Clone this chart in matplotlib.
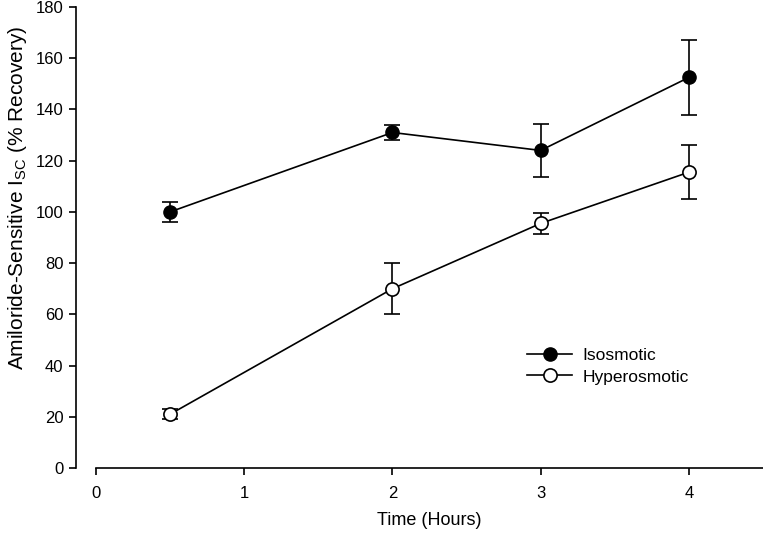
import matplotlib
matplotlib.use('Agg')
import matplotlib.pyplot as plt

plt.rcParams['font.family'] = ['Liberation Sans', 'DejaVu Sans']
plt.rcParams['mathtext.fontset'] = 'custom'
plt.rcParams['mathtext.rm'] = 'Liberation Sans'

hours = [0.5, 2, 3, 4]
iso_mean = [100, 131, 124, 152.5]
iso_err = [4, 3, 10.2, 14.5]
hyper_mean = [21, 70, 95.5, 115.5]
hyper_err = [2, 10, 4, 10.5]

fig = plt.figure(figsize=(7.63, 5.34), dpi=100)
ax = fig.add_axes([96 / 763, 1 - 468 / 534, 1 - 96 / 763, (468 - 7) / 534])

# error bars first, then lines + markers on top
ax.errorbar(hours, iso_mean, yerr=iso_err, fmt='none', ecolor='black',
            elinewidth=1.2, capsize=6, capthick=1.2, zorder=2)
ax.errorbar(hours, hyper_mean, yerr=hyper_err, fmt='none', ecolor='black',
            elinewidth=1.2, capsize=6, capthick=1.2, zorder=2)
ax.plot(hours, iso_mean, color='black', marker='o', markersize=9.5,
        markerfacecolor='black', linewidth=1.2, label='Isosmotic', zorder=3)
ax.plot(hours, hyper_mean, color='black', marker='o', markersize=9.5,
        markerfacecolor='white', markeredgewidth=1.2, linewidth=1.2,
        label='Hyperosmotic', zorder=3)

ax.set_xlim(0, 4.5)
ax.set_ylim(0, 180)
ax.set_xticks([0, 1, 2, 3, 4])
ax.set_yticks(range(0, 181, 20))
ax.spines['top'].set_visible(False)
ax.spines['right'].set_visible(False)
ax.spines['left'].set_position(('outward', 14.4))
ax.spines['left'].set_linewidth(1.2)
ax.spines['bottom'].set_linewidth(1.2)
ax.tick_params(direction='out', length=5, width=1.2, labelsize=12, pad=4)
ax.tick_params(axis='x', pad=8)
ax.set_xlabel('Time (Hours)', fontsize=13, labelpad=8)
ax.set_ylabel(r'Amiloride-Sensitive I$_{\mathrm{SC}}$ (% Recovery)', fontsize=15)
ax.yaxis.set_label_coords(-0.1, 0.585)

ax.legend(loc='upper left', bbox_to_anchor=(0.636, 0.275), frameon=False, fontsize=12.5,
          handlelength=2.6, handletextpad=0.6, labelspacing=0.35, borderaxespad=0)

fig.savefig('out.png', dpi=100)
